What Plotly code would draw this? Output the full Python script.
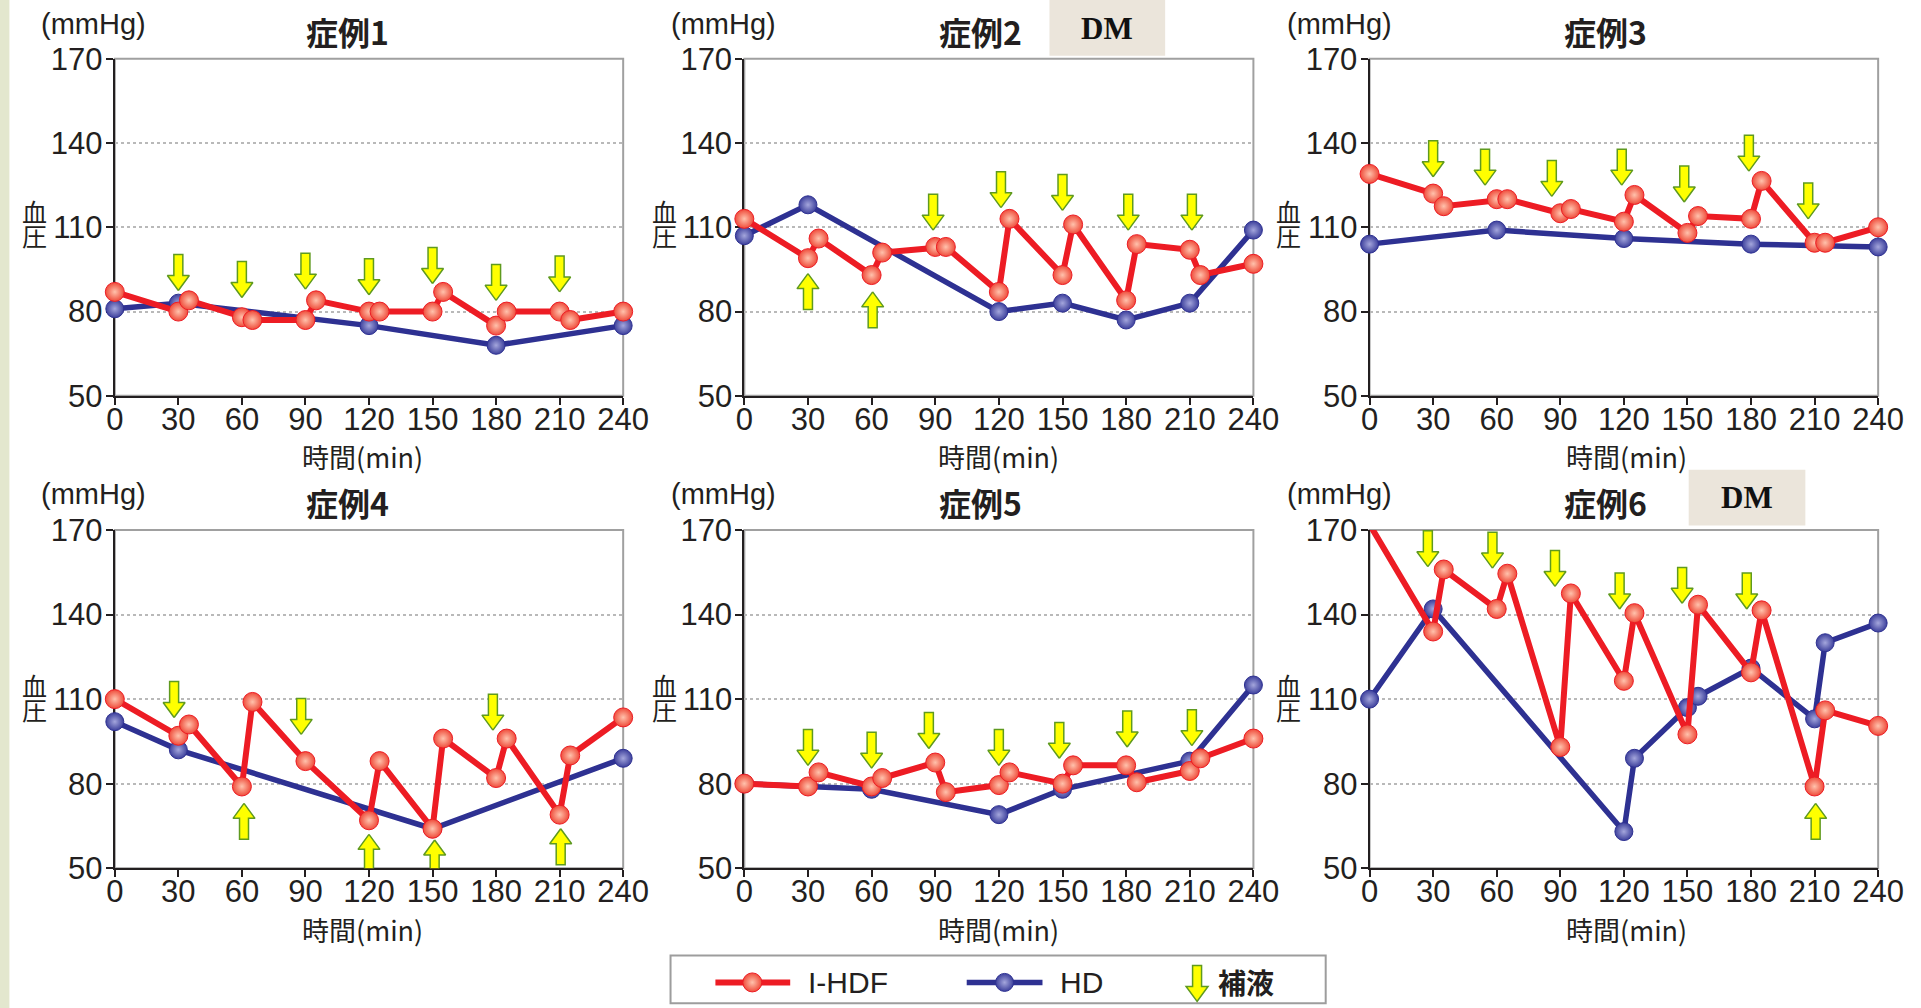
import plotly.graph_objects as go

FIG_W, FIG_H = 1921, 1008

# ---------------------------------------------------------------- data
case_titles = ["症例1", "症例2", "症例3", "症例4", "症例5", "症例6"]
dm_cases = [2, 6]

time_ticks = [0, 30, 60, 90, 120, 150, 180, 210, 240]
bp_ticks = [50, 80, 110, 140, 170]

# I-HDF: blood pressure (mmHg) at each measurement time (min)
hdf_time_1 = [0, 30, 35, 60, 65, 90, 95, 120, 125, 150, 155, 180, 185, 210, 215, 240]
hdf_bp_1 = [87, 80, 84, 78, 77, 77, 84, 80, 80, 80, 87, 75, 80, 80, 77, 80]
hdf_time_2 = [0, 30, 35, 60, 65, 90, 95, 120, 125, 150, 155, 180, 185, 210, 215, 240]
hdf_bp_2 = [113, 99, 106, 93, 101, 103, 103, 87, 113, 93, 111, 84, 104, 102, 93, 97]
hdf_time_3 = [0, 30, 35, 60, 65, 90, 95, 120, 125, 150, 155, 180, 185, 210, 215, 240]
hdf_bp_3 = [129, 122, 117.5, 120, 120, 115, 116.5, 112, 121.5, 108, 114, 113, 126.5, 104.5, 104.5, 110]
hdf_time_4 = [0, 30, 35, 60, 65, 90, 120, 125, 150, 155, 180, 185, 210, 215, 240]
hdf_bp_4 = [110, 97, 101, 79, 109, 88, 67, 88, 64, 96, 82, 96, 69, 90, 103.5]
hdf_time_5 = [0, 30, 35, 60, 65, 90, 95, 120, 125, 150, 155, 180, 185, 210, 215, 240]
hdf_bp_5 = [80, 79, 84, 79, 82, 87.5, 77, 79.5, 84, 80, 86.5, 86.5, 80.5, 84.5, 89, 96]
hdf_time_6 = [0, 30, 35, 60, 65, 90, 95, 120, 125, 150, 155, 180, 185, 210, 215, 240]
hdf_bp_6 = [172, 134, 156, 142, 154.5, 93, 147.5, 116.5, 140.5, 97.5, 143.5, 119.5, 141.5, 79, 106, 100.5]

# HD: blood pressure (mmHg) at each measurement time (min)
hd_time_1 = [0, 30, 120, 180, 240]
hd_bp_1 = [81, 83, 75, 68, 75]
hd_time_2 = [0, 30, 120, 150, 180, 210, 240]
hd_bp_2 = [107, 118, 80, 83, 77, 83, 109]
hd_time_3 = [0, 60, 120, 180, 240]
hd_bp_3 = [104, 109, 106, 104, 103]
hd_time_4 = [0, 30, 150, 240]
hd_bp_4 = [102, 92, 64, 89]
hd_time_5 = [0, 60, 120, 150, 210, 240]
hd_bp_5 = [80, 78, 69, 78, 88, 115]
hd_time_6 = [0, 30, 120, 125, 150, 155, 180, 210, 215, 240]
hd_bp_6 = [110, 142, 63, 89, 107, 111, 121, 103, 130, 137]

# 補液 (fluid infusion) markers: time and arrow-tip level
inf_down_time_1 = [30, 60, 90, 120, 150, 180, 210]
inf_down_tip_1 = [87.5, 85, 88, 86, 90, 84, 87]
inf_up_time_1 = []
inf_up_tip_1 = []
inf_down_time_2 = [89, 121, 150, 181, 211]
inf_down_tip_2 = [109, 117, 116, 109, 109]
inf_up_time_2 = [30, 60.5]
inf_up_tip_2 = [93.5, 87]
inf_down_time_3 = [30, 54.5, 86, 119, 148.5, 179, 207]
inf_down_tip_3 = [128, 125, 121, 125, 119, 130, 113]
inf_up_time_3 = []
inf_up_tip_3 = []
inf_down_time_4 = [28, 88, 178.5]
inf_down_tip_4 = [103.5, 97.5, 99]
inf_up_time_4 = [61, 120, 151, 210.5]
inf_up_tip_4 = [73, 62, 60, 64]
inf_down_time_5 = [30, 60, 87, 120, 148.5, 180.5, 211]
inf_down_tip_5 = [86.5, 85.5, 92.5, 86.5, 89, 93, 93.5]
inf_up_time_5 = []
inf_up_tip_5 = []
inf_down_time_6 = [27.5, 58, 87.5, 118, 147.5, 178]
inf_down_tip_6 = [157, 156.5, 150, 142, 144, 142]
inf_up_time_6 = [210.5]
inf_up_tip_6 = [73]

hdf_times = [hdf_time_1, hdf_time_2, hdf_time_3, hdf_time_4, hdf_time_5, hdf_time_6]
hdf_bps = [hdf_bp_1, hdf_bp_2, hdf_bp_3, hdf_bp_4, hdf_bp_5, hdf_bp_6]
hd_times = [hd_time_1, hd_time_2, hd_time_3, hd_time_4, hd_time_5, hd_time_6]
hd_bps = [hd_bp_1, hd_bp_2, hd_bp_3, hd_bp_4, hd_bp_5, hd_bp_6]
inf_down = [(inf_down_time_1, inf_down_tip_1), (inf_down_time_2, inf_down_tip_2),
            (inf_down_time_3, inf_down_tip_3), (inf_down_time_4, inf_down_tip_4),
            (inf_down_time_5, inf_down_tip_5), (inf_down_time_6, inf_down_tip_6)]
inf_up = [(inf_up_time_1, inf_up_tip_1), (inf_up_time_2, inf_up_tip_2),
          (inf_up_time_3, inf_up_tip_3), (inf_up_time_4, inf_up_tip_4),
          (inf_up_time_5, inf_up_tip_5), (inf_up_time_6, inf_up_tip_6)]

# ---------------------------------------------------------------- styling
TEXT = "#231f20"
FONT = "Liberation Sans, Arial, Noto Sans CJK JP, sans-serif"
CJK = "Noto Sans CJK JP, sans-serif"
RED_LINE, RED_FILL, RED_GLOW = "#ed1c24", "#ef4b3a", "#ffc2ac"
BLUE_LINE, BLUE_FILL, BLUE_GLOW = "#2e3192", "#3d409c", "#a4a6dc"
ARROW_FILL, ARROW_EDGE = "#ffff00", "#5f9a1f"

# where the plotting surface sits on the page (page pixels)
SURF_X0, SURF_Y0 = 6.6, 16.2
SURF_W, SURF_H = 1891.3, 975.4
SURF_Y1 = SURF_Y0 + SURF_H

# subplot frames in page pixels
col_left = [112.7, 744.0, 1371.0]
col_right = [622.5, 1254.5, 1881.0]
row_top = [58.0, 530.5]
row_bottom = [396.0, 869.5]

X_RANGE = [0, 240]
Y_RANGE = [50, 170]

# arrow geometry in pixels
ARROW_LEN, HEAD_LEN, HEAD_W, SHAFT_W = 36, 15, 22, 9


def px_x(x):
    return (x - SURF_X0) / SURF_W


def px_y(y):
    return 1 - (y - SURF_Y0) / SURF_H


def label(text, x, y, family, size, xanchor="center", color=TEXT):
    return dict(text=text, x=px_x(x), y=px_y(y), xref="paper", yref="paper",
                xanchor=xanchor, yanchor="middle", showarrow=False,
                font=dict(family=family, size=size, color=color))


def arrow_outline(pointing_down, length=ARROW_LEN):
    """Block-arrow outline as pixel offsets from the tip (dy > 0: towards the tail)."""
    hw, sw = HEAD_W / 2, SHAFT_W / 2
    s = 1 if pointing_down else -1
    pts = [(0, 0), (-hw, HEAD_LEN), (-sw, HEAD_LEN), (-sw, length),
           (sw, length), (sw, HEAD_LEN), (hw, HEAD_LEN), (0, 0)]
    return [(dx, s * dy) for dx, dy in pts]


def arrow_path(times, tips, pointing_down, kx, ky):
    """Arrow polygons in data units; kx, ky are pixels per data unit (ky>0: up)."""
    xs, ys = [], []
    for t, v in zip(times, tips):
        for dx, dy in arrow_outline(pointing_down):
            xs.append(t + dx / kx)
            ys.append(v + dy / ky)
        xs.append(None)
        ys.append(None)
    return xs, ys


fig = go.Figure()
shapes, annotations = [], []

# decorative strip on the page's left edge
shapes.append(dict(type="rect", xref="paper", yref="paper", x0=px_x(-10), x1=px_x(7),
                   y0=-0.05, y1=1.05, fillcolor="#e3e7ce", line=dict(width=0), layer="below"))

for i in range(6):
    n = i + 1
    sfx = "" if n == 1 else str(n)
    xa, ya = f"x{sfx}", f"y{sfx}"
    row, col = divmod(i, 3)
    l, r = col_left[col], col_right[col]
    t_, b_ = row_top[row], row_bottom[row]
    kx = (r - l) / (X_RANGE[1] - X_RANGE[0])
    ky = (b_ - t_) / (Y_RANGE[1] - Y_RANGE[0])

    axis_common = dict(ticks="outside", ticklen=7, tickwidth=2, tickcolor=TEXT,
                       showline=True, linecolor=TEXT, linewidth=2, zeroline=False,
                       tickfont=dict(family=FONT, size=31, color=TEXT),
                       layer="below traces", fixedrange=True)
    fig.layout[f"xaxis{sfx}"] = dict(domain=[px_x(l), px_x(r)], anchor=ya,
                                     range=X_RANGE, tickmode="array", tickvals=time_ticks,
                                     showgrid=False, ticklabelstandoff=-12, **axis_common)
    fig.layout[f"yaxis{sfx}"] = dict(domain=[px_y(b_), px_y(t_)], anchor=xa,
                                     range=Y_RANGE, tickmode="array", tickvals=bp_ticks,
                                     showgrid=True, gridcolor="#b9b9b9", griddash="dot",
                                     gridwidth=1.5, ticklabelstandoff=-3, **axis_common)

    # grey frame on the top / right edges
    shapes.append(dict(type="rect", xref=f"{xa} domain", yref=f"{ya} domain",
                       x0=0, x1=1, y0=0, y1=1, line=dict(color="#a0a0a0", width=2),
                       layer="below"))

    fig.add_trace(go.Scatter(
        x=hd_times[i], y=hd_bps[i], xaxis=xa, yaxis=ya,
        mode="lines+markers", cliponaxis=False, showlegend=False, hoverinfo="skip",
        line=dict(color=BLUE_LINE, width=5.5),
        marker=dict(size=18, color=BLUE_FILL, line=dict(color=BLUE_LINE, width=1),
                    gradient=dict(type="radial", color=BLUE_GLOW))))
    fig.add_trace(go.Scatter(
        x=hdf_times[i], y=hdf_bps[i], xaxis=xa, yaxis=ya,
        mode="lines+markers", cliponaxis=False, showlegend=False, hoverinfo="skip",
        line=dict(color=RED_LINE, width=6),
        marker=dict(size=19, color=RED_FILL, line=dict(color=RED_LINE, width=1),
                    gradient=dict(type="radial", color=RED_GLOW))))

    ax, ay = [], []
    for (times, tips), down in ((inf_down[i], True), (inf_up[i], False)):
        xs, ys = arrow_path(times, tips, down, kx, ky)
        ax += xs
        ay += ys
    if ax:
        fig.add_trace(go.Scatter(
            x=ax, y=ay, xaxis=xa, yaxis=ya, mode="lines", fill="toself",
            fillcolor=ARROW_FILL, line=dict(color=ARROW_EDGE, width=1.5),
            showlegend=False, hoverinfo="skip"))

    # titles and axis captions
    annotations.append(label(f"<b>{case_titles[i]}</b>", [346, 981, 1608][col],
                             [30, 502][row], CJK, 32))
    annotations.append(label("(mmHg)", [91, 723, 1341][col], [23, 494][row], FONT, 29))
    annotations.append(label("時間(min)", [361, 999, 1629][col], b_ + 61, CJK, 27))
    ylab_x = [32, 664, 1290][col]
    ylab_y = [222.5, 697.5][row]
    for ch, dy in (("血", -12), ("圧", 12)):
        annotations.append(label(ch, ylab_x, ylab_y + dy, CJK, 25))

    if n in dm_cases:
        bx0, bx1 = [None, (1050, 1166), (1691, 1808)][col]
        by0, by1 = [(-20, 55), (470, 526)][row]
        shapes.append(dict(type="rect", xref="paper", yref="paper",
                           x0=px_x(bx0), x1=px_x(bx1), y0=px_y(by1), y1=px_y(by0),
                           fillcolor="#ebe5db", line=dict(width=0), layer="below"))
        annotations.append(label("<b>DM</b>", (bx0 + bx1) / 2, [27.5, 497.5][row],
                                 "Liberation Serif, Times New Roman, serif", 31,
                                 color="#111111"))

# ---------------------------------------------------------------- legend
LG_L, LG_R, LG_T, LG_B = 670, 1327, 957, 1005
LG_VIS_B = min(LG_B, SURF_Y1)
fig.layout["xaxis7"] = dict(domain=[px_x(LG_L), px_x(LG_R)], range=[LG_L, LG_R],
                            anchor="y7", visible=False, fixedrange=True)
fig.layout["yaxis7"] = dict(domain=[max(0.0, px_y(LG_VIS_B)), px_y(LG_T)],
                            range=[LG_VIS_B, LG_T], anchor="x7", visible=False,
                            fixedrange=True)
shapes.append(dict(type="rect", xref="paper", yref="paper",
                   x0=px_x(LG_L), x1=px_x(LG_R), y0=px_y(LG_B), y1=px_y(LG_T),
                   fillcolor="white", line=dict(color="#9d9d9d", width=2), layer="below"))

LG_MID = 984
for (x0, x1, xm), lc, fc, gc, w, sz in (((715, 790, 752), RED_LINE, RED_FILL, RED_GLOW, 6, 19),
                                        ((967, 1043, 1005), BLUE_LINE, BLUE_FILL, BLUE_GLOW, 5.5, 18)):
    fig.add_trace(go.Scatter(x=[x0, x1], y=[LG_MID, LG_MID], xaxis="x7", yaxis="y7",
                             mode="lines", line=dict(color=lc, width=w),
                             showlegend=False, hoverinfo="skip", cliponaxis=False))
    fig.add_trace(go.Scatter(x=[xm], y=[LG_MID], xaxis="x7", yaxis="y7", mode="markers",
                             marker=dict(size=sz, color=fc, line=dict(color=lc, width=1),
                                         gradient=dict(type="radial", color=gc)),
                             showlegend=False, hoverinfo="skip", cliponaxis=False))

# legend arrow key (page pixels: tip at the bottom)
key_tip_x, key_tip_y = 1198, 1003
key_pts = [(key_tip_x + dx, key_tip_y - dy) for dx, dy in arrow_outline(True)]
key_path = "M " + " L ".join(f"{px_x(x):.5f},{px_y(y):.5f}" for x, y in key_pts) + " Z"
shapes.append(dict(type="path", xref="paper", yref="paper", path=key_path,
                   fillcolor=ARROW_FILL, line=dict(color=ARROW_EDGE, width=1.5),
                   layer="above"))

annotations.append(label("I-HDF", 806, LG_MID, FONT, 30, xanchor="left"))
annotations.append(label("HD", 1059, LG_MID, FONT, 30, xanchor="left"))
annotations.append(label("<b>補液</b>", 1217, LG_MID, CJK, 28, xanchor="left"))

fig.update_layout(width=FIG_W, height=FIG_H,
                  margin=dict(l=0, r=0, t=0, b=0, pad=0),
                  paper_bgcolor="white", plot_bgcolor="white",
                  shapes=shapes, annotations=annotations, showlegend=False)

fig.write_html("out.html", config={"displayModeBar": False})
